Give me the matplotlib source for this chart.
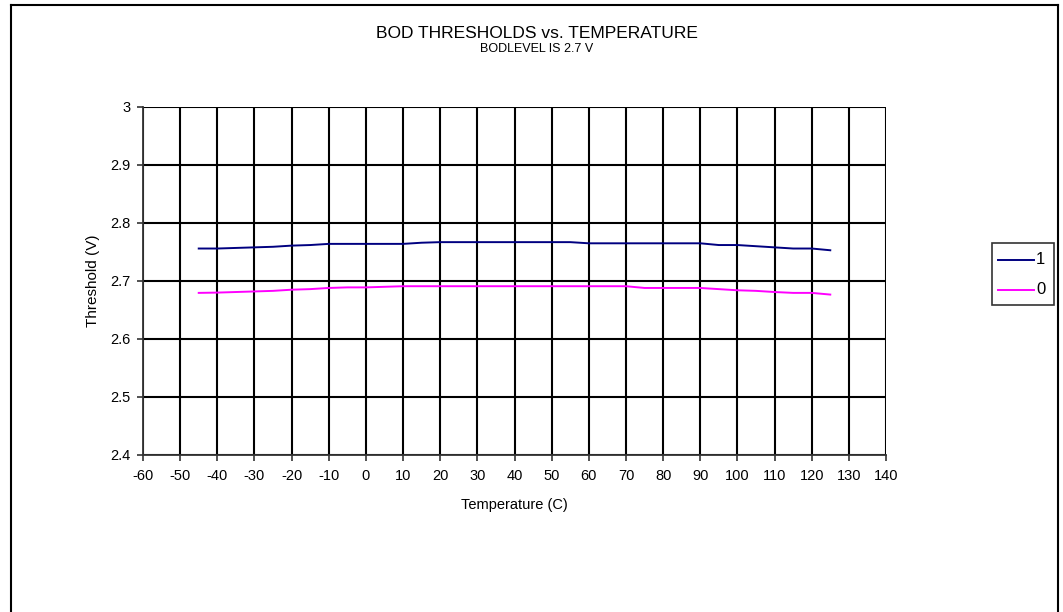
import matplotlib
matplotlib.use("Agg")
import matplotlib.pyplot as plt
from matplotlib.lines import Line2D
from matplotlib.patches import Rectangle

plt.rcParams['font.family'] = ['Liberation Sans', 'DejaVu Sans']

temps = [-45, -40, -35, -30, -25, -20, -15, -10, -5, 0, 5, 10, 15, 20, 25, 30,
         35, 40, 45, 50, 55, 60, 65, 70, 75, 80, 85, 90, 95, 100, 105, 110,
         115, 120, 125]
bod1 = [2.756, 2.756, 2.757, 2.758, 2.759, 2.761, 2.762, 2.764, 2.764, 2.764,
        2.764, 2.764, 2.766, 2.767, 2.767, 2.767, 2.767, 2.767, 2.767, 2.767,
        2.767, 2.765, 2.765, 2.765, 2.765, 2.765, 2.765, 2.765, 2.762, 2.762,
        2.760, 2.758, 2.756, 2.756, 2.753]
bod0 = [2.6795, 2.680, 2.681, 2.682, 2.683, 2.685, 2.686, 2.688, 2.689, 2.689,
        2.690, 2.691, 2.691, 2.691, 2.691, 2.691, 2.691, 2.691, 2.691, 2.691,
        2.691, 2.691, 2.691, 2.691, 2.688, 2.688, 2.688, 2.688, 2.686, 2.684,
        2.683, 2.681, 2.6795, 2.6795, 2.6766]
series_labels = ["1", "0"]
series_colors = ["#000080", "#FF00FF"]
xticks = list(range(-60, 141, 10))
yticks = [2.4, 2.5, 2.6, 2.7, 2.8, 2.9, 3.0]
ytick_labels = ["2.4", "2.5", "2.6", "2.7", "2.8", "2.9", "3"]

W, H = 1063, 612
fig = plt.figure(figsize=(W / 100, H / 100), dpi=100)

def fx(px):
    return px / W

def fy(py):
    return 1 - py / H

ax = fig.add_axes([fx(143), fy(455), fx(886) - fx(143), fy(107) - fy(455)])
ax.plot(temps, bod1, color=series_colors[0], lw=1.4)
ax.plot(temps, bod0, color=series_colors[1], lw=1.4)
ax.set_xlim(-60, 140)
ax.set_ylim(2.4, 3.0)
ax.set_xticks(xticks)
ax.set_xticklabels([str(t) for t in xticks], fontsize=10.5)
ax.set_yticks(yticks)
ax.set_yticklabels(ytick_labels, fontsize=10.5)
ax.grid(True, color='black', lw=1.5)
ax.set_axisbelow(True)
for s in ['top', 'right']:
    ax.spines[s].set_visible(False)
for s in ['left', 'bottom']:
    ax.spines[s].set_color('#333333')
    ax.spines[s].set_linewidth(1.3)
ax.tick_params(direction='out', length=4, width=1.2, color='#333333')
ax.tick_params(axis='x', pad=6)
ax.tick_params(axis='y', pad=5)
ax.set_xlabel("Temperature (C)", fontsize=10.5, labelpad=11)
ax.set_ylabel("Threshold (V)", fontsize=11, va='center')
ax.yaxis.set_label_coords((93 - 143) / 743, 0.5)

fig.text(fx(537), fy(33), "BOD THRESHOLDS vs. TEMPERATURE", ha='center', va='center', fontsize=12.5)
fig.text(fx(537), fy(49), "BODLEVEL IS 2.7 V", ha='center', va='center', fontsize=9)

# figure border
fig.add_artist(Line2D([fx(11), fx(11)], [fy(5), -0.01], color='black', lw=1.5, transform=fig.transFigure))
fig.add_artist(Line2D([fx(11), fx(1058)], [fy(5), fy(5)], color='black', lw=1.5, transform=fig.transFigure))
fig.add_artist(Line2D([fx(1058), fx(1058)], [fy(5), -0.01], color='black', lw=1.5, transform=fig.transFigure))

# legend box
fig.add_artist(Rectangle((fx(992), fy(305)), fx(1054) - fx(992), fy(243) - fy(305),
                         fill=False, edgecolor='#333333', lw=1.2, transform=fig.transFigure))
for i, (lab, col) in enumerate(zip(series_labels, series_colors)):
    yy = fy(260 + 30 * i)
    fig.add_artist(Line2D([fx(998), fx(1034)], [yy, yy], color=col, lw=1.4, transform=fig.transFigure))
    fig.text(fx(1036), yy, lab, ha='left', va='center', fontsize=12)

fig.savefig("out.png", dpi=100)
